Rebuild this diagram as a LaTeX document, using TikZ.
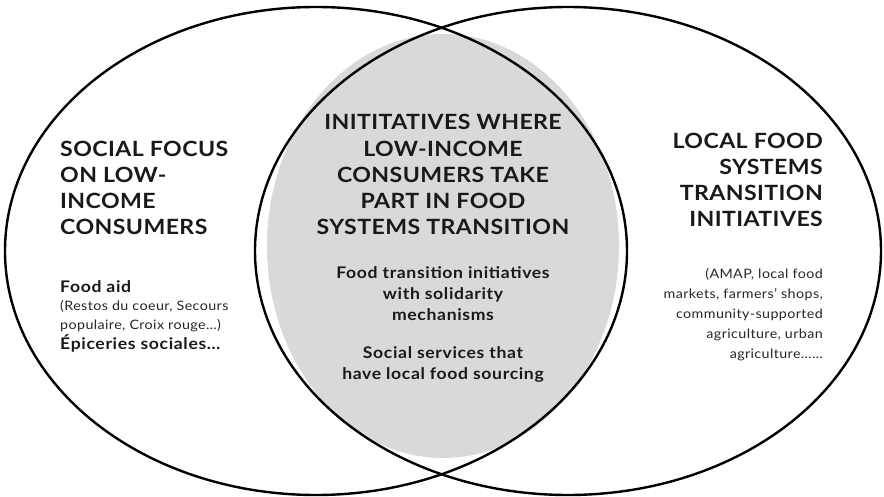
\documentclass[tikz,border=0pt]{standalone}
\usepackage{fontspec}
\setmainfont{Lato}[FakeStretch=1.1]
\tikzset{
	venn/.style={line width=2.4pt,draw=black},
	lens/.style={fill=black!15,draw=none},
	headline/.style={font=\bfseries\fontsize{21}{26.3}\selectfont\addfontfeatures{LetterSpace=2},inner sep=0pt,text=black!90},
	bodytext/.style={font=\fontsize{13}{19.8}\selectfont\addfontfeatures{LetterSpace=3},inner sep=0pt,text=black!85},
	boldtext/.style={font=\bfseries\fontsize{16}{21}\selectfont\addfontfeatures{LetterSpace=4},inner sep=0pt,text=black!90},
}
\begin{document}
\begin{tikzpicture}[x=1pt,y=-1pt]
	\useasboundingbox (0,0) rectangle (884,497);
	\fill[lens] (443,246) ellipse [x radius=176,y radius=212];
	\draw[venn] (316,251) ellipse [x radius=311,y radius=244];
	\draw[venn] (568,251) ellipse [x radius=313,y radius=244];
	% left circle
	\node[headline,align=left,anchor=base west] (social) at (60,235) {SOCIAL FOCUS\\ON LOW-\\INCOME\\CONSUMERS};
	\node[boldtext,anchor=base west] (aid) at (60,292) {Food aid};
	\node[bodytext,align=left,anchor=base west] (restos) at (60,330) {(Restos du coeur, Secours\\populaire, Croix rouge…)};
	\node[boldtext,anchor=base west] (epiceries) at (60,349) {Épiceries sociales…};
	% middle
	\node[headline,align=center,anchor=base] (initiatives) at (443,235) {INITITATIVES WHERE\\LOW-INCOME\\CONSUMERS TAKE\\PART IN FOOD\\SYSTEMS TRANSITION};
	\node[boldtext,align=center,anchor=base] (solidarity) at (443,320) {Food transition initiatives\\with solidarity\\mechanisms};
	\node[boldtext,align=center,anchor=base] (services) at (443,379) {Social services that\\have local food sourcing};
	% right circle
	\node[headline,align=right,anchor=base east] (local) at (823,227) {LOCAL FOOD\\SYSTEMS\\TRANSITION\\INITIATIVES};
	\node[bodytext,align=right,anchor=base east] (amap) at (823,358) {(AMAP, local food\\markets, farmers’ shops,\\community-supported\\agriculture, urban\\agriculture……};
\end{tikzpicture}
\end{document}
